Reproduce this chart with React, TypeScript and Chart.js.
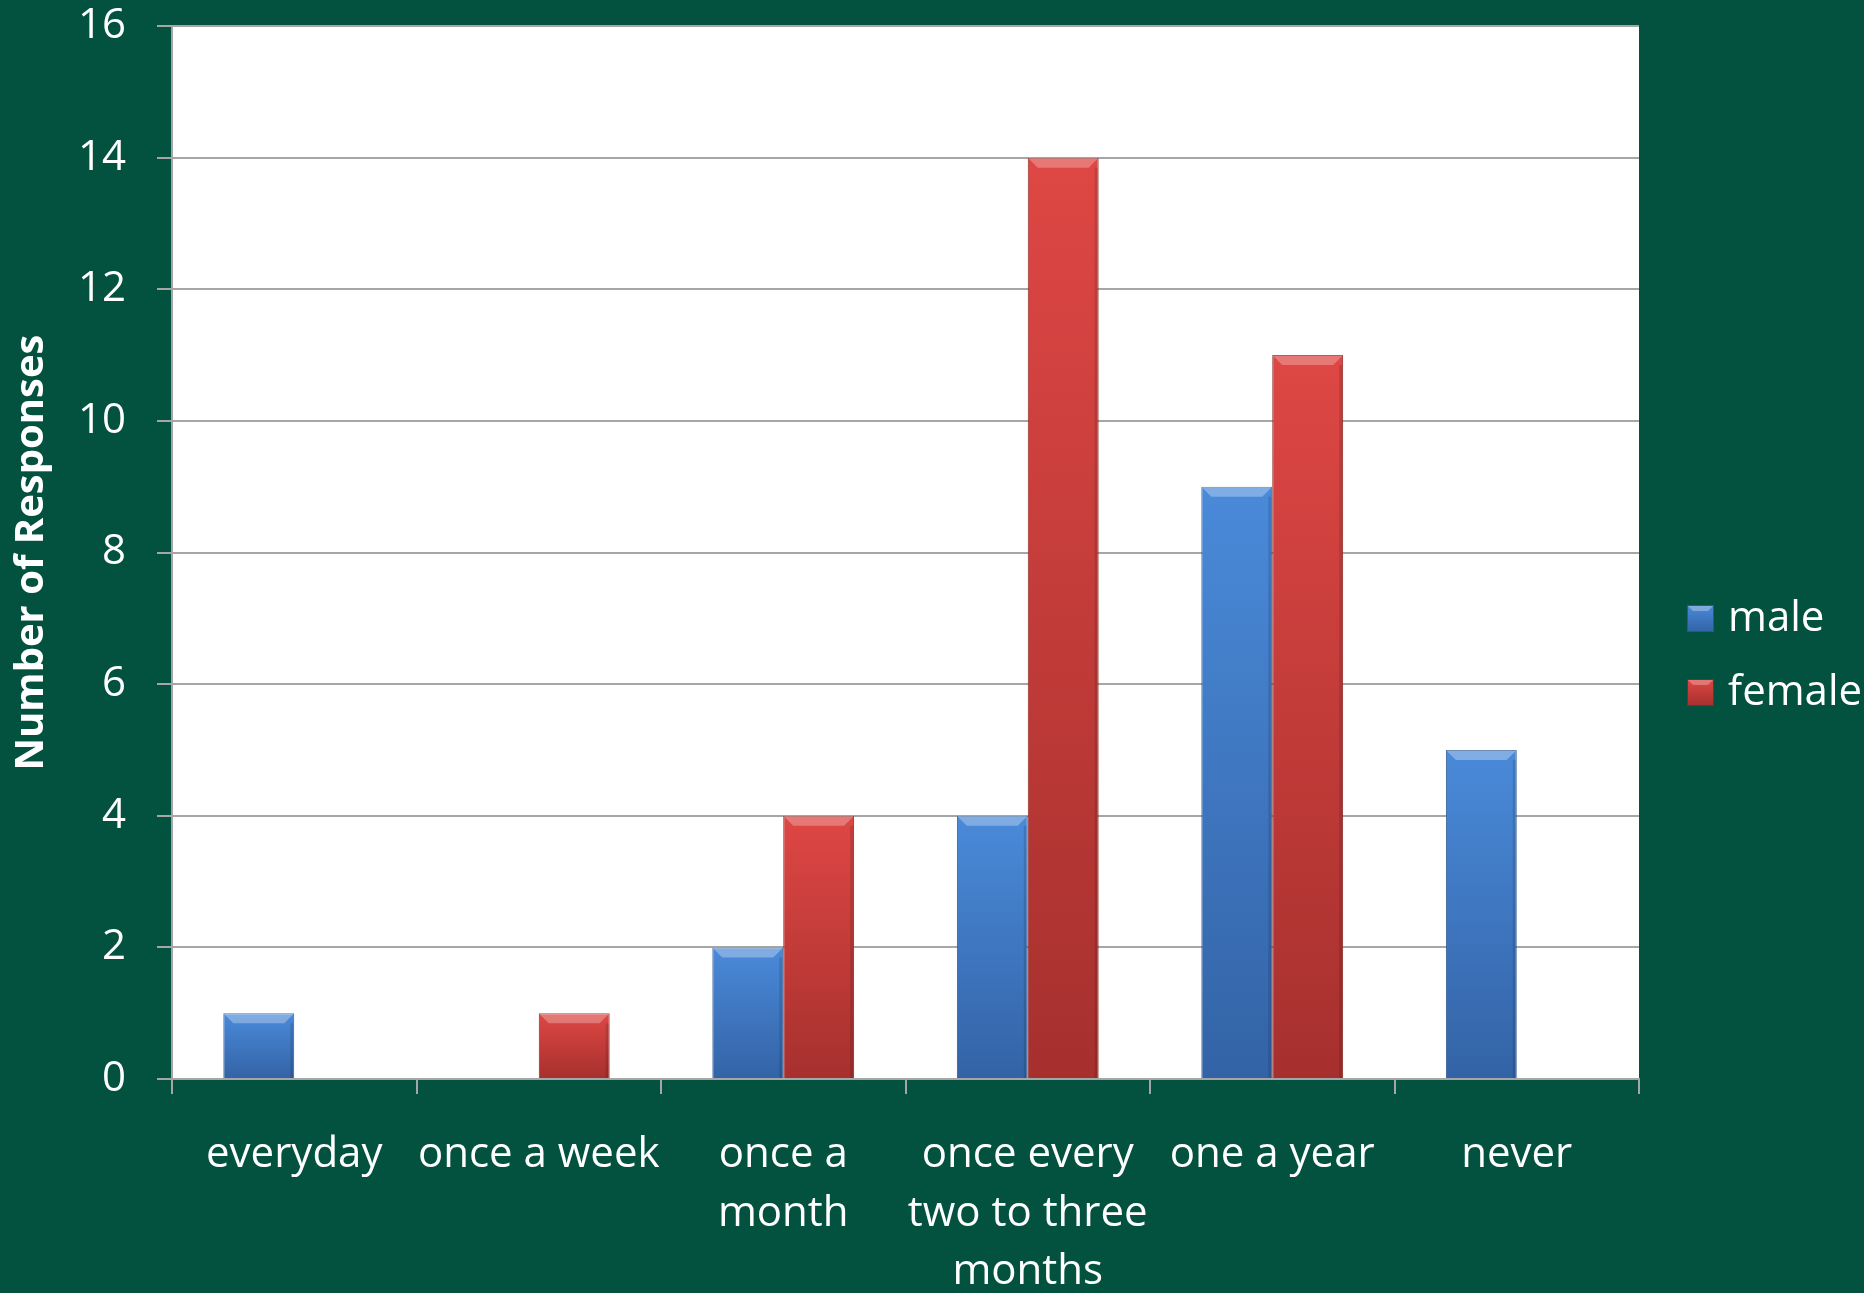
import React, { useEffect, useRef } from 'react';
import { Chart, registerables } from 'chart.js';

Chart.register(...registerables);

// ---- data ----
const categories: (string | string[])[] = [
  'everyday',
  'once a week',
  ['once a', 'month'],
  ['once every', 'two to three', 'months'],
  'one a year',
  'never',
];
const seriesNames = ['male', 'female'];
const maleValues = [1, 0, 2, 4, 9, 5];
const femaleValues = [0, 1, 4, 14, 11, 0];
const yMin = 0;
const yMax = 16;
const yStep = 2;
const yTitle = 'Number of Responses';

// ---- style ----
const BG = '#02523f';
const GRID = '#a6a6a6';
const FONT = '"Open Sans", "DejaVu Sans", sans-serif';
const W = 1864;
const H = 1293;

const palette = [
  { top: '#4a8ad9', bottom: '#3363a6', border: '#2c5690', bevel: 'rgba(255,255,255,0.3)' },
  { top: '#de4744', bottom: '#a6302e', border: '#8a2624', bevel: 'rgba(255,255,255,0.27)' },
];

function barGradient(top: string, bottom: string) {
  return (ctx: any) => {
    const chart = ctx.chart;
    if (!chart.chartArea || ctx.type !== 'data') return top;
    const ys = chart.scales.y;
    const v = ctx.raw as number;
    const yTop = ys.getPixelForValue(v);
    const yBase = ys.getPixelForValue(0);
    if (!isFinite(yTop) || !isFinite(yBase) || yBase - yTop < 1) return top;
    const g = chart.ctx.createLinearGradient(0, yTop, 0, yBase);
    g.addColorStop(0, top);
    g.addColorStop(1, bottom);
    return g;
  };
}

const plotBgPlugin = {
  id: 'plotBg',
  beforeDraw(chart: any) {
    const { ctx, chartArea } = chart;
    ctx.save();
    ctx.fillStyle = BG;
    ctx.fillRect(0, 0, chart.width, chart.height);
    ctx.fillStyle = '#ffffff';
    ctx.fillRect(chartArea.left, chartArea.top, chartArea.right - chartArea.left, chartArea.bottom - chartArea.top);
    ctx.restore();
  },
};

const bevelPlugin = {
  id: 'bevel',
  afterDatasetsDraw(chart: any) {
    const { ctx } = chart;
    ctx.save();
    chart.data.datasets.forEach((ds: any, di: number) => {
      const meta = chart.getDatasetMeta(di);
      const p = palette[di % palette.length];
      meta.data.forEach((el: any) => {
        const { x, y, base, width } = el.getProps(['x', 'y', 'base', 'width'], true);
        const h = base - y;
        if (h < 4) return;
        const l = x - width / 2;
        const r = x + width / 2;
        const b = Math.min(10, h / 2);
        ctx.fillStyle = p.bevel;
        ctx.beginPath();
        ctx.moveTo(l, y);
        ctx.lineTo(r, y);
        ctx.lineTo(r - b, y + b);
        ctx.lineTo(l + b, y + b);
        ctx.closePath();
        ctx.fill();
        ctx.fillStyle = 'rgba(0,0,0,0.12)';
        ctx.fillRect(r - 4, y + b, 3, h - b);
      });
    });
    ctx.restore();
  },
};

const legendPlugin = {
  id: 'customLegend',
  afterDraw(chart: any) {
    const { ctx, chartArea } = chart;
    const box = 27;
    const gap = 74;
    const n = chart.data.datasets.length;
    const x0 = chartArea.right + 48;
    const cy0 = chart.height / 2 - ((n - 1) * gap) / 2 + 9;
    ctx.save();
    ctx.font = `42px ${FONT}`;
    ctx.textBaseline = 'middle';
    ctx.textAlign = 'left';
    chart.data.datasets.forEach((ds: any, i: number) => {
      const p = palette[i % palette.length];
      const cy = cy0 + i * gap;
      const top = cy - box / 2;
      const g = ctx.createLinearGradient(0, top, 0, top + box);
      g.addColorStop(0, p.top);
      g.addColorStop(1, p.bottom);
      ctx.fillStyle = g;
      ctx.fillRect(x0, top, box, box);
      ctx.fillStyle = p.bevel;
      ctx.beginPath();
      ctx.moveTo(x0, top);
      ctx.lineTo(x0 + box, top);
      ctx.lineTo(x0 + box - 6, top + 6);
      ctx.lineTo(x0 + 6, top + 6);
      ctx.closePath();
      ctx.fill();
      ctx.strokeStyle = p.border;
      ctx.lineWidth = 1;
      ctx.strokeRect(x0 + 0.5, top + 0.5, box - 1, box - 1);
      ctx.fillStyle = '#ffffff';
      ctx.fillText(ds.label, x0 + box + 14, cy + 1);
    });
    ctx.restore();
  },
};

export default function App() {
  const ref = useRef<HTMLCanvasElement | null>(null);

  useEffect(() => {
    document.body.style.margin = '0';
    document.body.style.background = BG;
    const canvas = ref.current;
    if (!canvas) return;
    const chart = new Chart(canvas, {
      type: 'bar',
      data: {
        labels: categories as any,
        datasets: [maleValues, femaleValues].map((vals, i) => ({
          label: seriesNames[i],
          data: vals,
          backgroundColor: barGradient(palette[i].top, palette[i].bottom),
          borderColor: palette[i].border,
          borderWidth: 1,
          categoryPercentage: 0.58,
          barPercentage: 1,
        })),
      },
      options: {
        responsive: false,
        animation: false,
        events: [],
        layout: { padding: { left: 0, top: 26, right: 225, bottom: 0 } },
        plugins: {
          legend: { display: false },
          tooltip: { enabled: false },
        },
        scales: {
          x: {
            offset: true,
            grid: {
              offset: true,
              drawOnChartArea: false,
              drawTicks: true,
              tickLength: 15,
              color: GRID,
              lineWidth: 2,
            },
            border: { color: GRID, width: 2 },
            ticks: {
              color: '#ffffff',
              font: { family: FONT, size: 42, lineHeight: 1.39 },
              padding: 32,
              maxRotation: 0,
              minRotation: 0,
              autoSkip: false,
            },
            afterFit(scale: any) {
              scale.height = 214;
              scale.paddingLeft = 0;
              scale.paddingRight = 0;
            },
          },
          y: {
            min: yMin,
            max: yMax,
            grid: {
              color: GRID,
              lineWidth: 2,
              tickLength: 15,
              drawTicks: true,
            },
            border: { color: GRID, width: 2 },
            ticks: {
              stepSize: yStep,
              color: '#ffffff',
              font: { family: FONT, size: 42 },
              padding: 31,
            },
            title: {
              display: true,
              text: yTitle,
              color: '#ffffff',
              font: { family: FONT, size: 40, weight: 'bold' },
              padding: { top: 8, bottom: 0 },
            },
            afterFit(scale: any) {
              scale.width = 172;
              scale.paddingTop = 0;
              scale.paddingBottom = 0;
            },
          },
        },
      },
      plugins: [plotBgPlugin, bevelPlugin, legendPlugin],
    });
    return () => chart.destroy();
  }, []);

  return (
    <div style={{ width: W, height: H, background: BG }}>
      <canvas ref={ref} width={W} height={H} style={{ display: 'block' }} />
    </div>
  );
}
